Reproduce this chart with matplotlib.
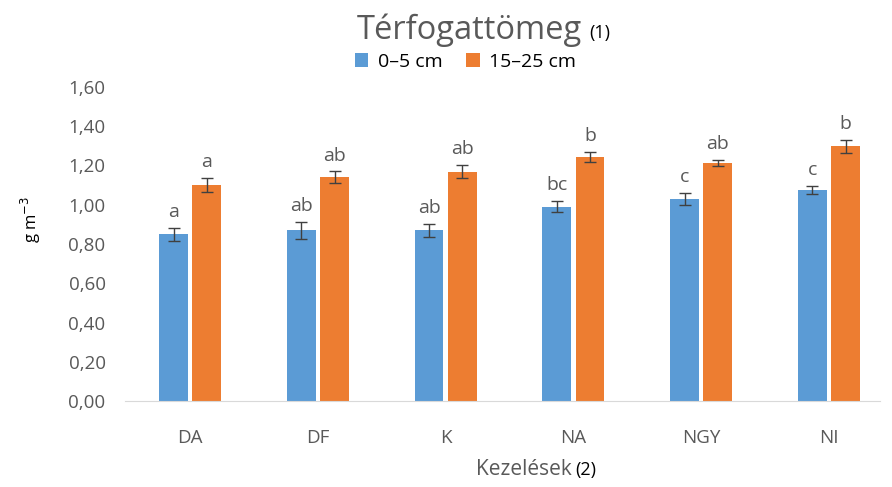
import matplotlib.pyplot as plt
import numpy as np

categories = ['DA', 'DF', 'K', 'NA', 'NGY', 'NI']
top_vals = [0.85, 0.87, 0.87, 0.99, 1.03, 1.075]
top_err = [0.034, 0.042, 0.033, 0.028, 0.031, 0.02]
top_letters = ['a', 'ab', 'ab', 'bc', 'c', 'c']
sub_vals = [1.10, 1.14, 1.168, 1.243, 1.211, 1.298]
sub_err = [0.037, 0.03, 0.034, 0.026, 0.016, 0.034]
sub_letters = ['a', 'ab', 'ab', 'b', 'ab', 'b']
series_names = ['0–5 cm', '15–25 cm']

plt.rcParams['font.family'] = ['Open Sans', 'DejaVu Sans']
grey = '#595959'
blue = '#5b9bd5'
orange = '#ed7d31'

fig = plt.figure(figsize=(8.92, 4.87), dpi=100)
ax = fig.add_axes([125 / 892, 1 - 401 / 487, 755 / 892, 314 / 487])

x = np.arange(len(categories))
w = 0.225
off = 0.13
b1 = ax.bar(x - off, top_vals, w, color=blue, label=series_names[0])
b2 = ax.bar(x + off, sub_vals, w, color=orange, label=series_names[1])
ax.errorbar(x - off, top_vals, yerr=top_err, fmt='none', ecolor='#404040',
            elinewidth=1, capsize=4, capthick=1)
ax.errorbar(x + off, sub_vals, yerr=sub_err, fmt='none', ecolor='#404040',
            elinewidth=1, capsize=4, capthick=1)

for i in range(len(categories)):
    ax.text(x[i] - off, top_vals[i] + top_err[i] + 0.035, top_letters[i],
            ha='center', va='bottom', fontsize=14, color=grey)
    ax.text(x[i] + off, sub_vals[i] + sub_err[i] + 0.035, sub_letters[i],
            ha='center', va='bottom', fontsize=14, color=grey)

ax.set_xlim(-0.51, len(categories) - 0.6)
ax.set_ylim(0, 1.6)
ax.set_yticks(np.arange(0, 1.61, 0.2))
ax.set_yticklabels([f'{v:.2f}'.replace('.', ',') for v in np.arange(0, 1.61, 0.2)])
ax.set_xticks(x)
ax.set_xticklabels(categories)
ax.tick_params(axis='both', length=0, labelsize=13.5, colors=grey)
ax.tick_params(axis='x', pad=20)
ax.tick_params(axis='y', pad=14)
for s in ['top', 'right', 'left']:
    ax.spines[s].set_visible(False)
ax.spines['bottom'].set_color('#d9d9d9')

fig.text(0.653, 0.938, 'Térfogattömeg', fontsize=23.5, color=grey, ha='right', va='center')
fig.text(0.661, 0.932, '(1)', fontsize=13, color='black', ha='left', va='center')
fig.text(0.035, 0.55, 'g m$^{-3}$', rotation=90, fontsize=12, color='black', ha='center', va='center')
fig.text(0.641, 0.035, 'Kezelések', fontsize=15, color=grey, ha='right', va='center')
fig.text(0.645, 0.035, '(2)', fontsize=13, color='black', ha='left', va='center')

fig.legend(handles=[b1, b2], loc='center', bbox_to_anchor=(0.522, 0.873), ncol=2, frameon=False,
           fontsize=14, handlelength=0.7, handleheight=0.7, columnspacing=1.2, handletextpad=0.5,
           labelcolor='black')

plt.savefig('out.png', dpi=100)
